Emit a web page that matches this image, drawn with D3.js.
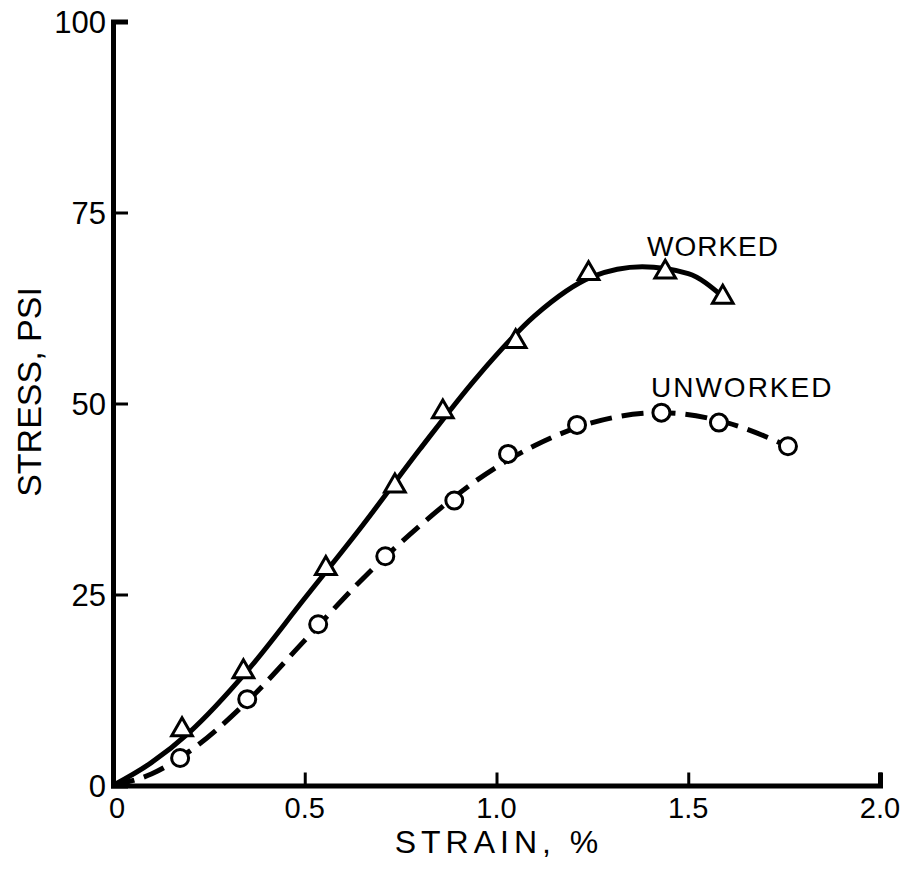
<!DOCTYPE html>
<html>
<head>
<meta charset="utf-8">
<script src="https://cdn.jsdelivr.net/npm/d3@7"></script>
<style>
  html, body { margin: 0; padding: 0; background: #fff; }
  svg { display: block; }
  text { font-family: "Liberation Sans", Arial, sans-serif; fill: #000; }
</style>
</head>
<body>
<svg id="chart" width="908" height="884"></svg>
<script>
// ---- data ----
// measured points (markers)
const workedStrain   = [0.18, 0.34, 0.555, 0.735, 0.86, 1.05, 1.24, 1.44, 1.59];
const workedStress   = [7.3, 14.9, 28.4, 39.2, 48.9, 58.1, 67.0, 67.2, 63.9];
const unworkedStrain = [0.175, 0.35, 0.535, 0.71, 0.89, 1.03, 1.21, 1.43, 1.58, 1.76];
const unworkedStress = [3.6, 11.3, 21.1, 30.0, 37.3, 43.4, 47.2, 48.8, 47.5, 44.4];
// hand-drawn fitted curves
const workedFitStrain   = [0, 0.1, 0.2, 0.35, 0.5, 0.65, 0.8, 0.95, 1.1, 1.25, 1.38, 1.5, 1.59];
const workedFitStress   = [0, 3, 7, 15, 24.5, 34, 44, 53.5, 61.5, 66.6, 67.9, 67, 64];
const unworkedFitStrain = [0, 0.1, 0.2, 0.35, 0.5, 0.65, 0.8, 0.95, 1.1, 1.25, 1.43, 1.6, 1.76];
const unworkedFitStress = [0, 1.5, 4.5, 11, 19, 27, 34, 40, 44.5, 47.5, 48.8, 47.5, 44.4];
const xTicks = [0, 0.5, 1.0, 1.5, 2.0];
const xTickLabels = ["0", "0.5", "1.0", "1.5", "2.0"];
const yTicks = [0, 25, 50, 75, 100];
const yTickLabels = ["0", "25", "50", "75", "100"];
const seriesLabels = ["WORKED", "UNWORKED"];
const xTitle = "STRAIN, %";
const yTitle = "STRESS, PSI";

const svg = d3.select("#chart");
const x = d3.scaleLinear().domain([0, 2.0]).range([113, 880]);
const y = d3.scaleLinear().domain([0, 100]).range([785.5, 21.5]);

// axes
const xAxis = d3.axisBottom(x).tickValues(xTicks).tickSize(-13).tickFormat(() => "");
const yAxis = d3.axisLeft(y).tickValues(yTicks).tickSize(-15).tickFormat(() => "");
const gx = svg.append("g").attr("transform", `translate(0,${y(0)})`).call(xAxis);
const gy = svg.append("g").attr("transform", `translate(${x(0)},0)`).call(yAxis);
[gx, gy].forEach(g => {
  g.select(".domain").attr("stroke", "#000").attr("stroke-width", 5);
  g.selectAll(".tick line").attr("stroke", "#000").attr("stroke-width", 3);
});
gx.selectAll(".tick").filter(d => d === 0).remove();
gy.selectAll(".tick").filter(d => d === 0).remove();
// tick labels
svg.append("g").selectAll("text").data(xTicks).join("text")
  .attr("x", d => x(d) + (d === 0 ? 4 : 0)).attr("y", y(0) + 32)
  .attr("text-anchor", "middle").attr("font-size", 29)
  .text((d,i) => xTickLabels[i]);
svg.append("g").selectAll("text").data(yTicks).join("text")
  .attr("x", x(0) - 7).attr("y", d => y(d) + 11)
  .attr("text-anchor", "end").attr("font-size", 31)
  .text((d,i) => yTickLabels[i]);

// titles
svg.append("text").attr("x", 499).attr("y", 853).attr("text-anchor", "middle")
  .attr("font-size", 32).attr("letter-spacing", 5).text(xTitle);
svg.append("text").attr("transform", "translate(41,392) rotate(-90)")
  .attr("text-anchor", "middle").attr("font-size", 34).text(yTitle);

// curves
const workedFit = workedFitStrain.map((s,i)=>[s, workedFitStress[i]]);
const unworkedFit = unworkedFitStrain.map((s,i)=>[s, unworkedFitStress[i]]);
const line = d3.line().x(d => x(d[0])).y(d => y(d[1])).curve(d3.curveMonotoneX);
svg.append("path").attr("d", line(workedFit)).attr("fill", "none")
  .attr("stroke", "#000").attr("stroke-width", 5);
svg.append("path").attr("d", line(unworkedFit)).attr("fill", "none")
  .attr("stroke", "#000").attr("stroke-width", 5).attr("stroke-dasharray", "22,10");

// markers
const worked = workedStrain.map((s,i)=>[s, workedStress[i]]);
const unworked = unworkedStrain.map((s,i)=>[s, unworkedStress[i]]);
const tri = d3.symbol().type(d3.symbolTriangle).size(185);
svg.append("g").selectAll("path").data(worked).join("path")
  .attr("d", tri).attr("transform", d => `translate(${x(d[0])},${y(d[1])})`)
  .attr("fill", "#fff").attr("stroke", "#000").attr("stroke-width", 3);
svg.append("g").selectAll("circle").data(unworked).join("circle")
  .attr("cx", d => x(d[0])).attr("cy", d => y(d[1])).attr("r", 8.5)
  .attr("fill", "#fff").attr("stroke", "#000").attr("stroke-width", 3);

// series labels
svg.append("text").attr("x", 647).attr("y", 256).attr("font-size", 28).attr("letter-spacing", 1).text(seriesLabels[0]);
svg.append("text").attr("x", 651).attr("y", 397).attr("font-size", 28).attr("letter-spacing", 2).text(seriesLabels[1]);
</script>
</body>
</html>
